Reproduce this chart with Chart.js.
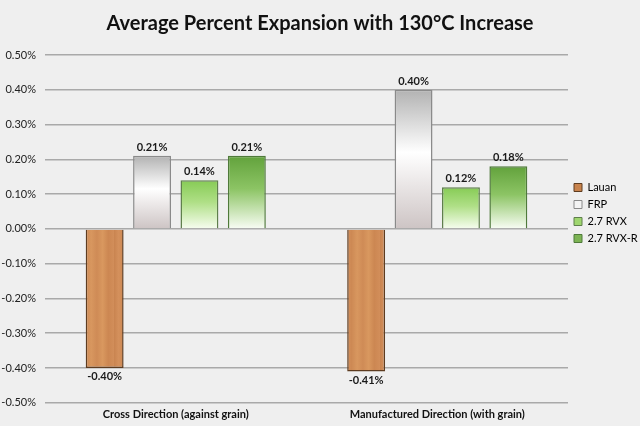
<!DOCTYPE html>
<html>
<head>
<meta charset="utf-8">
<script src="https://cdn.jsdelivr.net/npm/chart.js@4"></script>
<style>
html,body{margin:0;padding:0;background:#efefef;}
#wrap{width:640px;height:426px;}
</style>
</head>
<body>
<div id="wrap"><canvas id="c" width="640" height="426"></canvas></div>
<script>
const categories = ['Cross Direction (against grain)', 'Manufactured Direction (with grain)'];
const seriesNames = ['Lauan', 'FRP', '2.7 RVX', '2.7 RVX-R'];
const lauan = [-0.40, -0.41];
const frp = [0.21, 0.40];
const rvx = [0.14, 0.12];
const rvxr = [0.21, 0.18];
const yTicks = [-0.5, -0.4, -0.3, -0.2, -0.1, 0, 0.1, 0.2, 0.3, 0.4, 0.5];

const FONT = 'Lato, "Open Sans", sans-serif';

function woodPattern(ctx) {
  const c = document.createElement('canvas');
  c.width = 38; c.height = 4;
  const g = c.getContext('2d');
  const lg = g.createLinearGradient(0, 0, 38, 0);
  lg.addColorStop(0, '#c98450');
  lg.addColorStop(0.12, '#d4905c');
  lg.addColorStop(0.25, '#cd8954');
  lg.addColorStop(0.4, '#d8975f');
  lg.addColorStop(0.55, '#cf8b56');
  lg.addColorStop(0.7, '#d9985f');
  lg.addColorStop(0.85, '#cc8752');
  lg.addColorStop(1, '#d28e5a');
  g.fillStyle = lg; g.fillRect(0, 0, 38, 4);
  return ctx.createPattern(c, 'repeat');
}

function vGrad(context, stops) {
  const chart = context.chart;
  const y = chart.scales && chart.scales.y;
  if (!y || !chart.chartArea) return stops[0][1];
  const v = context.raw;
  const top = y.getPixelForValue(Math.max(v, 0));
  const bot = y.getPixelForValue(Math.min(v, 0));
  const g = chart.ctx.createLinearGradient(0, top, 0, bot);
  stops.forEach(s => g.addColorStop(s[0], s[1]));
  return g;
}

let woodPat = null;
const fills = [
  (ctx) => { if (!woodPat) woodPat = woodPattern(ctx.chart.ctx); return woodPat; },
  (ctx) => vGrad(ctx, [[0, '#b2b2b2'], [0.45, '#ffffff'], [1, '#cdc4c4']]),
  (ctx) => vGrad(ctx, [[0, '#86cb55'], [0.45, '#afdf86'], [1, '#f7fdf0']]),
  (ctx) => vGrad(ctx, [[0, '#62a23c'], [0.45, '#8cc464'], [1, '#f9fdf5']])
];
const borders = ['#5e3c20', '#8a8a8a', '#5f7f4c', '#4f7a3a'];
const legendFill = ['#c8834d', '#f4f4f4', '#9fd66f', '#7db454'];

const datalabelPlugin = {
  id: 'valueLabels',
  afterDatasetsDraw(chart) {
    const ctx = chart.ctx;
    ctx.save();
    ctx.font = 'bold 11px ' + FONT;
    ctx.fillStyle = '#1a1a1a';
    ctx.textAlign = 'center';
    chart.data.datasets.forEach((ds, di) => {
      const meta = chart.getDatasetMeta(di);
      meta.data.forEach((el, i) => {
        const v = ds.data[i];
        const txt = v.toFixed(2) + '%';
        if (v >= 0) {
          ctx.textBaseline = 'bottom';
          ctx.fillText(txt, el.x, el.y - 3);
        } else {
          ctx.textBaseline = 'top';
          ctx.fillText(txt, el.x, el.y + 3);
        }
      });
    });
    ctx.restore();
  }
};

const bgPlugin = {
  id: 'bg',
  beforeLayout(chart) {
    const lg = chart.legend;
    if (lg && !lg._narrowed) {
      const f = lg.fit;
      lg.fit = function () { f.call(this); this.width = 72; };
      lg._narrowed = true;
    }
  },
  beforeDraw(chart) {
    const ctx = chart.ctx;
    ctx.save();
    ctx.fillStyle = '#efefef';
    ctx.fillRect(0, 0, chart.width, chart.height);
    ctx.restore();
  }
};

const allSeries = [lauan, frp, rvx, rvxr];

new Chart(document.getElementById('c'), {
  type: 'bar',
  data: {
    labels: categories,
    datasets: allSeries.map((d, i) => ({
      label: seriesNames[i],
      data: d,
      backgroundColor: fills[i],
      borderColor: borders[i],
      borderWidth: 1.5,
      categoryPercentage: 0.725,
      barPercentage: 0.8
    }))
  },
  options: {
    responsive: false,
    animation: false,
    devicePixelRatio: 1,
    layout: { padding: { left: 0, right: 0, top: 0, bottom: 0 } },
    plugins: {
      title: {
        display: true,
        text: 'Average Percent Expansion with 130°C Increase',
        color: '#111',
        font: { family: FONT, size: 20, weight: 'bold' },
        padding: { top: 12, bottom: 19 }
      },
      legend: {
        position: 'right',
        align: 'center',
        labels: {
          boxWidth: 8,
          boxHeight: 8,
          padding: 6,
          color: '#222',
          font: { family: FONT, size: 11 },
          generateLabels(chart) {
            return chart.data.datasets.map((ds, i) => ({
              text: ds.label,
              fillStyle: legendFill[i],
              strokeStyle: borders[i],
              lineWidth: 1,
              datasetIndex: i,
              hidden: false
            }));
          }
        }
      },
      tooltip: { enabled: false }
    },
    scales: {
      x: {
        grid: { display: false, drawTicks: false },
        border: { display: false },
        ticks: {
          color: '#111',
          font: { family: FONT, size: 11, weight: 'bold' },
          padding: 5
        }
      },
      y: {
        min: -0.5,
        max: 0.5,
        afterBuildTicks(scale) { scale.ticks = yTicks.map(v => ({ value: v })); },
        afterFit(scale) { scale.width = 45; },
        grid: { color: '#a9a9a9', lineWidth: 1.5, drawTicks: false },
        border: { display: false },
        ticks: {
          color: '#222',
          font: { family: FONT, size: 11 },
          padding: 9,
          callback: (v) => v.toFixed(2) + '%'
        }
      }
    }
  },
  plugins: [bgPlugin, datalabelPlugin]
});
</script>
</body>
</html>
